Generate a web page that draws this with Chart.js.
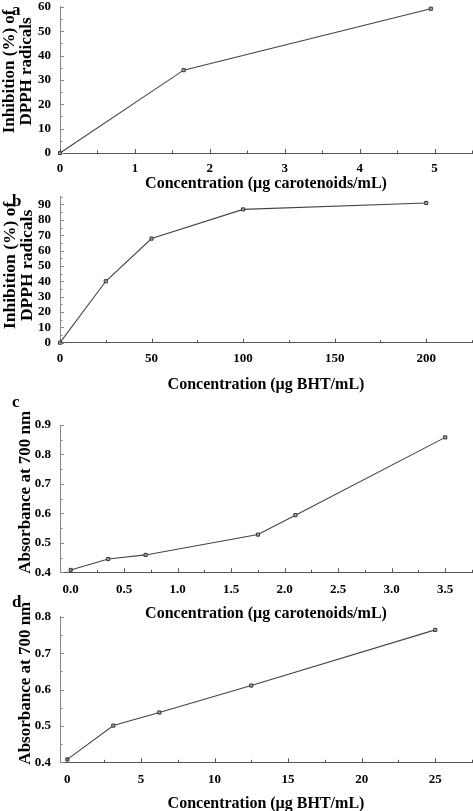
<!DOCTYPE html>
<html>
<head>
<meta charset="utf-8">
<script src="https://cdn.jsdelivr.net/npm/chart.js@4.4.1/dist/chart.umd.min.js"></script>
<style>
  html, body { margin: 0; padding: 0; background: #fff; overflow: hidden; }
  body { width: 473px; height: 811px; position: relative; }
  .panel { position: absolute; left: 0; width: 473px; }
  .tag { position: absolute; left: 12px; font: bold 17px "Liberation Serif", serif; color: #000; }
</style>
</head>
<body>
<div class="panel" style="top:-10px;height:202px"><canvas id="chartA"></canvas></div>
<div class="panel" style="top:180px;height:213px"><canvas id="chartB"></canvas></div>
<div class="panel" style="top:400px;height:222px"><canvas id="chartC"></canvas></div>
<div class="panel" style="top:600px;height:212px"><canvas id="chartD"></canvas></div>

<span class="tag" style="top:0px">a</span>
<span class="tag" style="top:191px">b</span>
<span class="tag" style="top:392px">c</span>
<span class="tag" style="top:592px">d</span>

<script>
// --- data ---
const concA = [0, 1.65, 4.95];
const inhibA = [0, 34, 59.2];

const concB = [0, 25, 50, 100, 200];
const inhibB = [0, 40, 67.8, 86.8, 91];

const concC = [0, 0.35, 0.7, 1.75, 2.1, 3.5];
const absC = [0.408, 0.445, 0.459, 0.528, 0.594, 0.858];

const concD = [0, 3.125, 6.25, 12.5, 25];
const absD = [0.408, 0.501, 0.537, 0.611, 0.764];

// major tick labels of each axis
const xTicksA = [0, 1, 2, 3, 4, 5];
const yTicksA = [0, 10, 20, 30, 40, 50, 60];
const xTicksB = [0, 50, 100, 150, 200];
const yTicksB = [0, 10, 20, 30, 40, 50, 60, 70, 80, 90];
const xTicksC = [0, 0.5, 1.0, 1.5, 2.0, 2.5, 3.0, 3.5];
const yTicksC = [0.4, 0.5, 0.6, 0.7, 0.8, 0.9];
const xTicksD = [0, 5, 10, 15, 20, 25];
const yTicksD = [0.4, 0.5, 0.6, 0.7, 0.8];

// leading en spaces nudge the rotated titles up a little, as in the figure
const titleDPPH_A = ['\u2002\u2002Inhibition (%) of', '\u2002\u2002DPPH radicals'];
const titleDPPH_B = ['\u2002Inhibition (%) of', '\u2002DPPH radicals'];
const titleAbs = '\u2002 Absorbance at 700 nm';
const titleCar = 'Concentration (\u00b5g carotenoids/mL)';
const titleBHT = 'Concentration (\u00b5g BHT/mL)';

Chart.defaults.color = '#000';
Chart.defaults.font.family = '"Liberation Serif", "Times New Roman", serif';
Chart.defaults.font.weight = 'bold';

// ticks drawn inward, majors longer than the minors in between
const innerTicks = {
    id: 'innerTicks',
    afterDraw(chart) {
        const ctx = chart.ctx;
        const area = chart.chartArea;
        ctx.save();
        ctx.lineWidth = 1;
        Object.values(chart.scales).forEach(scale => {
            const majors = scale.options.majorList || [];
            ctx.strokeStyle = scale.axis === 'x' ? '#555' : '#888';
            scale.ticks.forEach(t => {
                const isMajor = majors.some(m => Math.abs(m - t.value) < 1e-9);
                const len = isMajor ? 4 : 2.5;
                const p = Math.round(scale.getPixelForValue(t.value)) + 0.5;
                ctx.beginPath();
                if (scale.axis === 'x') {
                    ctx.moveTo(p, area.bottom);
                    ctx.lineTo(p, area.bottom - len);
                } else {
                    ctx.moveTo(area.left, p);
                    ctx.lineTo(area.left + len, p);
                }
                ctx.stroke();
            });
        });
        ctx.restore();
    }
};

function withMinors(majors, min, max) {
    const step = majors[1] - majors[0];
    const out = [];
    for (let v = majors[0] - step / 2; v <= max + 1e-9; v += step / 2) {
        if (v >= min - 1e-9) out.push({ value: Number(v.toFixed(6)) });
    }
    return out;
}

function makeAxis(cfg) {
    return {
        type: 'linear',
        min: cfg.min,
        max: cfg.max,
        majorList: cfg.majors,
        afterBuildTicks: scale => { scale.ticks = withMinors(cfg.majors, cfg.min, cfg.max); },
        afterFit: scale => {
            if (cfg.width) scale.width = cfg.width;
            if (cfg.height) scale.height = cfg.height;
            // no extra room for overhanging labels, the plot fills the panel
            scale.paddingLeft = 0;
            scale.paddingRight = 0;
        },
        grid: { display: false, drawTicks: false },
        border: { display: true, color: cfg.borderColor, width: 1 },
        ticks: {
            padding: cfg.pad,
            autoSkip: false,
            maxRotation: 0,
            font: { size: 13, weight: 'bold' },
            callback: v => {
                const isMajor = cfg.majors.some(m => Math.abs(m - v) < 1e-9);
                if (!isMajor) return '';
                return cfg.digits ? v.toFixed(cfg.digits) : String(v);
            }
        },
        title: {
            display: true,
            text: cfg.title,
            font: { size: cfg.titleSize, weight: 'bold', lineHeight: 1.0 },
            padding: cfg.titlePad
        }
    };
}

function drawPanel(id, xs, ys, topPad, xCfg, yCfg) {
    const ctx = document.getElementById(id).getContext('2d');
    return new Chart(ctx, {
        type: 'line',
        data: {
            datasets: [{
                data: xs.map((x, i) => ({ x: x, y: ys[i] })),
                borderColor: '#444',
                borderWidth: 1.1,
                tension: 0,
                pointStyle: 'rect',
                pointRadius: 2.2,
                pointHoverRadius: 0,
                pointBackgroundColor: '#aaa',
                pointBorderColor: '#333',
                pointBorderWidth: 1,
                clip: false
            }]
        },
        options: {
            responsive: true,
            maintainAspectRatio: false,
            animation: false,
            events: [],
            layout: { autoPadding: false, padding: { top: topPad, right: 1, left: 0, bottom: 0 } },
            plugins: { legend: { display: false }, tooltip: { enabled: false } },
            scales: {
                x: makeAxis(Object.assign({ borderColor: '#555' }, xCfg)),
                y: makeAxis(Object.assign({ borderColor: '#888', width: 60 }, yCfg))
            }
        },
        plugins: [innerTicks]
    });
}

drawPanel('chartA', concA, inhibA, 15,
    { min: 0, max: 5.5, majors: xTicksA, height: 39, pad: 7.5, title: titleCar, titleSize: 16, titlePad: { top: 0, bottom: 0 } },
    { min: 0, max: 60, majors: yTicksA, pad: 9, title: titleDPPH_A, titleSize: 17, titlePad: { top: 1.5, bottom: 0 } });

drawPanel('chartB', concB, inhibB, 15,
    { min: 0, max: 225, majors: xTicksB, height: 50.3, pad: 7.8, title: titleBHT, titleSize: 16, titlePad: { top: 0, bottom: 0.4 } },
    { min: 0, max: 95, majors: yTicksB, pad: 9, title: titleDPPH_B, titleSize: 17.5, titlePad: { top: 1.5, bottom: 0 } });

drawPanel('chartC', concC, absC, 25,
    { min: -0.1, max: 3.75, majors: xTicksC, digits: 1, height: 49.7, pad: 9.7, title: titleCar, titleSize: 16, titlePad: { top: 0, bottom: 0.4 } },
    { min: 0.4, max: 0.9, majors: yTicksC, digits: 1, pad: 9, title: titleAbs, titleSize: 17, titlePad: { top: 17.5, bottom: 0 } });

drawPanel('chartD', concD, absD, 15,
    { min: -0.5, max: 27.5, majors: xTicksD, height: 49.7, pad: 9.7, title: titleBHT, titleSize: 16, titlePad: { top: 0, bottom: 0 } },
    { min: 0.4, max: 0.8, majors: yTicksD, digits: 1, pad: 9, title: titleAbs, titleSize: 17, titlePad: { top: 17.5, bottom: 0 } });
</script>
</body>
</html>
